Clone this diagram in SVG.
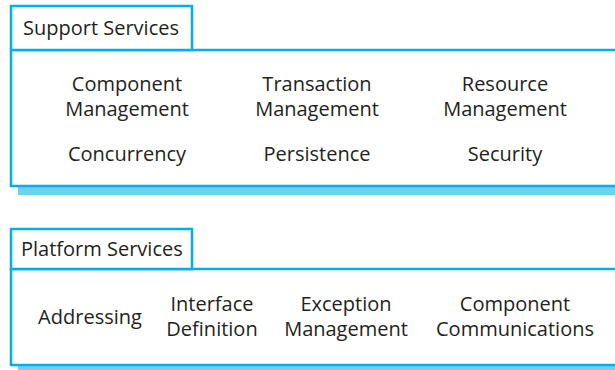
<svg xmlns="http://www.w3.org/2000/svg" width="615" height="370" viewBox="0 0 615 370">
<style>
.box{fill:#fff;stroke:#00aeef;stroke-width:2.5}
.sh{fill:#6dd0f5}
text{font-family:"Open Sans","Noto Sans",sans-serif;font-size:20px;fill:#231f20;text-anchor:middle}
.t{text-anchor:start}
</style>
<rect width="615" height="370" fill="#fff"/>
<g id="support">
<rect class="sh" x="18" y="186" width="600" height="9"/>
<rect class="box" x="11" y="50" width="610" height="136"/>
<rect class="box" x="11" y="6" width="181" height="44"/>
<text class="t" x="23" y="35">Support Services</text>
<text x="127" y="91">Component</text>
<text x="127" y="116">Management</text>
<text x="317" y="91">Transaction</text>
<text x="317" y="116">Management</text>
<text x="505" y="91">Resource</text>
<text x="505" y="116">Management</text>
<text x="127" y="161">Concurrency</text>
<text x="317" y="161">Persistence</text>
<text x="505" y="161">Security</text>
</g>
<g id="platform">
<rect class="sh" x="18" y="365" width="600" height="9"/>
<rect class="box" x="11" y="269" width="610" height="96"/>
<rect class="box" x="11" y="229" width="181" height="40"/>
<text class="t" x="21" y="256">Platform Services</text>
<text x="90" y="324">Addressing</text>
<text x="212" y="311">Interface</text>
<text x="212" y="336">Definition</text>
<text x="346" y="311">Exception</text>
<text x="346" y="336">Management</text>
<text x="515" y="311">Component</text>
<text x="515" y="336">Communications</text>
</g>
</svg>
